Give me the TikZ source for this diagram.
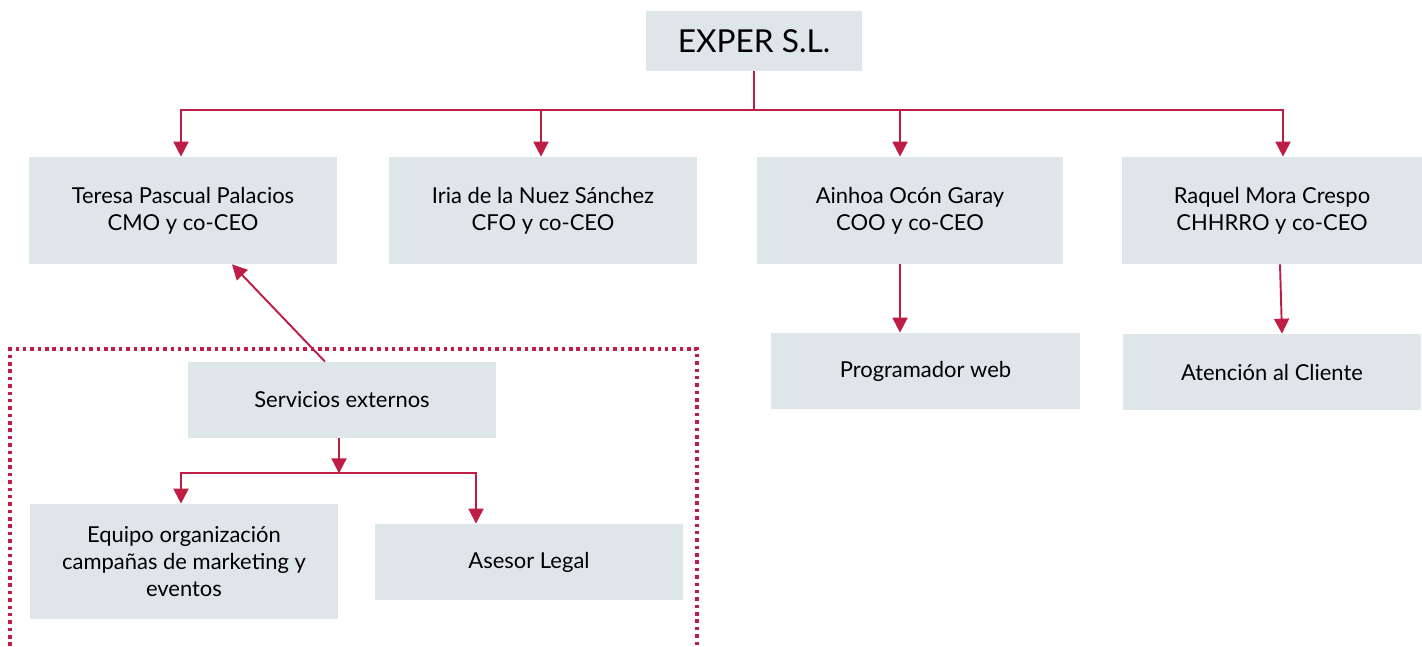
\documentclass[tikz,border=0pt]{standalone}
\usepackage{fontspec}
\setmainfont{Lato}
\usetikzlibrary{arrows.meta, positioning, calc}
\definecolor{boxgrey}{HTML}{DFE6E9}
\definecolor{linkred}{HTML}{BE1E45}

\begin{document}
\begin{tikzpicture}[x=0.02cm, y=-0.02cm,
    orgbox/.style={fill=boxgrey, align=center, inner sep=2pt,
      minimum width=6.16cm, minimum height=2.14cm,
      font=\fontsize{12.5}{15.5}\selectfont},
    smallbox/.style={orgbox, minimum height=1.52cm},
    link/.style={draw=linkred, line width=1.1pt},
    arr/.style={link, -{Triangle[length=0.3cm, width=0.3cm]}},
    extframe/.style={draw=linkred, line width=2pt, dash pattern=on 2pt off 2.2pt}]
  \useasboundingbox (0,0) rectangle (1422,646);

  % top of the chart
  \node[orgbox, minimum width=4.32cm, minimum height=1.2cm,
    font=\fontsize{18}{18}\selectfont] (exper) at (754,41) {EXPER S.L.};

  % co-CEOs
  \node[orgbox] (teresa) at (183,210.5) {Teresa Pascual Palacios\\CMO y co-CEO};
  \node[orgbox] (iria) at (543,210.5) {Iria de la Nuez Sánchez\\CFO y co-CEO};
  \node[orgbox, minimum width=6.12cm] (ainhoa) at (910,210.5) {Ainhoa Ocón Garay\\COO y co-CEO};
  \node[orgbox, minimum width=6cm] (raquel) at (1272,210.5) {Raquel Mora Crespo\\CHHRRO y co-CEO};

  % second level
  \node[smallbox, minimum width=6.18cm] (web) at (925.5,371) {Programador web};
  \node[smallbox, minimum width=5.96cm] (cliente) at (1272,372) {Atención al Cliente};

  % external services
  \node[smallbox] (externos) at (342,400) {Servicios externos};
  \node[orgbox, minimum height=2.3cm] (equipo) at (184,561.5) {Equipo organización\\campañas de marketing y\\eventos};
  \node[smallbox] (asesor) at (529,562) {Asesor Legal};

  % connectors from the top
  \draw[link] (exper.south) -- ++(0,39) coordinate (hub);
  \draw[arr] (hub) -| ([xshift=-0.04cm]teresa.north);
  \draw[arr] (hub) -| ([xshift=-0.04cm]iria.north);
  \draw[arr] (hub) -| ([xshift=-0.2cm]ainhoa.north);
  \draw[arr] (hub) -| ([xshift=0.22cm]raquel.north);
  \draw[arr] ([xshift=-0.2cm]ainhoa.south) -- ([xshift=-0.2cm]ainhoa.south |- web.north);
  \draw[arr] ([xshift=0.16cm]raquel.south) -- ([xshift=0.2cm]cliente.north);

  % external services block
  \draw[arr] ([xshift=-0.34cm]externos.north) -- ([xshift=0.98cm]teresa.south);
  \draw[arr] ([xshift=-0.06cm]externos.south) -- ++(0,35) coordinate (subhub);
  \draw[arr] (subhub) -| ([xshift=-0.06cm]equipo.north);
  \draw[arr] (subhub) -| ([xshift=-1.06cm]asesor.north);
  \draw[extframe] (10,646) |- (697,349) -- (697,646);
\end{tikzpicture}
\end{document}
